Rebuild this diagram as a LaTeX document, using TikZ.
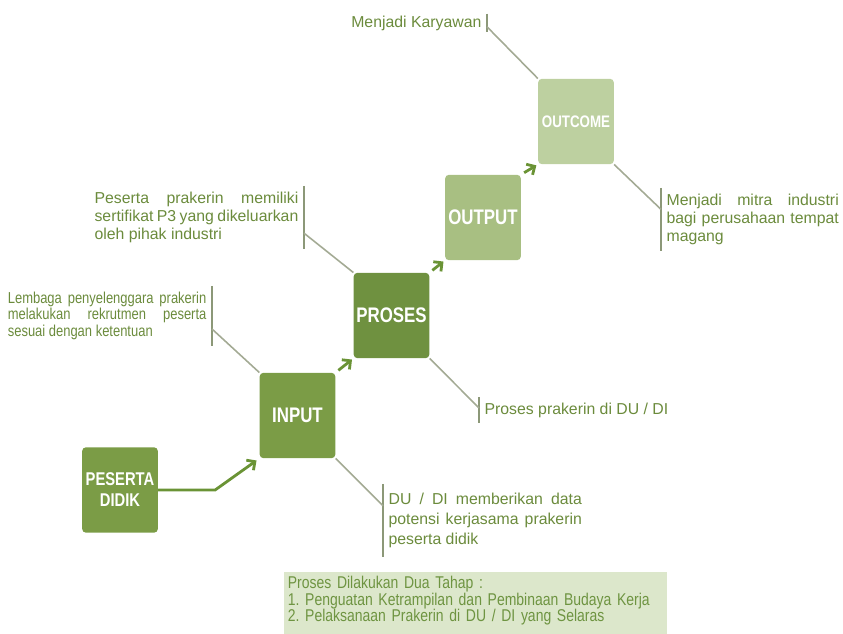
\documentclass[tikz,border=0pt]{standalone}
\usepackage{fontspec}
\setmainfont{Liberation Sans}
\newfontfamily\boxfont[FakeStretch=0.8]{Liberation Sans}
\newfontfamily\narrowfont[FakeStretch=0.82]{Liberation Sans}
\usetikzlibrary{arrows.meta,calc}

\definecolor{boxA}{HTML}{7B9C46}
\definecolor{boxP}{HTML}{6F9140}
\definecolor{boxO}{HTML}{A8BF82}
\definecolor{boxC}{HTML}{BDD0A0}
\definecolor{arrgreen}{HTML}{6A9335}
\definecolor{linkgray}{HTML}{A3AA94}
\definecolor{bargray}{HTML}{8C9878}
\definecolor{lblgreen}{HTML}{6B8B3C}
\definecolor{notefill}{HTML}{DCE7CB}
\definecolor{notegreen}{HTML}{6E9441}

\begin{document}
\begin{tikzpicture}[x=0.02cm, y=-0.02cm,
		stepbox/.style={fill=#1, rounded corners=2pt, minimum width=43pt, minimum height=48.5pt, inner sep=0pt, text=white, align=center, font=\boxfont\bfseries\fontsize{12}{13}\selectfont},
		arr/.style={draw=arrgreen, line width=1.6pt, -{Straight Barb[length=3.5pt,width=7pt]}},
		link/.style={draw=linkgray, line width=0.9pt},
		bar/.style={draw=bargray, line width=0.8pt},
		lbl/.style={text=lblgreen, font=\fontsize{9}{10.5}\selectfont, inner xsep=3pt, inner ysep=1pt},
		lblblock/.style={lbl, align=justify, inner ysep=3pt}]

			\useasboundingbox (0,0) rectangle (843,634);

			%%draw the boxes
			\node[stepbox=boxA, font=\boxfont\bfseries\fontsize{10.5}{12}\selectfont] (peserta) at (120,490){PESERTA\\DIDIK};
			\node[stepbox=boxA] (input) at (297.5,415.5){INPUT};
			\node[stepbox=boxP] (proses) at (391.5,315.5){PROSES};
			\node[stepbox=boxO] (output) at (483,217.5){OUTPUT};
			\node[stepbox=boxC, font=\boxfont\bfseries\fontsize{9.5}{11}\selectfont] (outcome) at (576,121.5){OUTCOME};

			%%draw the arrows
			\draw[arr, shorten >=2pt] (peserta.east) -- ++(57,0) -- (input.south west);
			\draw[arr, shorten <=2pt, shorten >=1pt] (input.north east) -- (proses.south west);
			\draw[arr, shorten <=2pt, shorten >=1pt] (proses.north east) -- (output.south west);
			\draw[arr, shorten <=2pt, shorten >=1pt] (output.north east) -- (outcome.south west);

			%%draw the labels
			\node[lbl, anchor=east] (karyawan) at (487,23){Menjadi Karyawan};
				\draw[bar] (karyawan.north east) -- (karyawan.south east);
				\draw[link] ($(karyawan.north east)!0.7!(karyawan.south east)$) -- (outcome.north west);

			\node[lblblock, anchor=north west, text width=98pt] (mitra) at (661,188){Menjadi mitra industri\linebreak bagi perusahaan tempat\linebreak magang};
				\draw[bar] (mitra.north west) -- (mitra.south west);
				\draw[link] (outcome.south east) -- ($(mitra.north west)!0.34!(mitra.south west)$);

			\node[lblblock, anchor=north east, text width=116pt] (sertifikat) at (304,186){Peserta prakerin memiliki\linebreak sertifikat P3 yang dikeluarkan\linebreak oleh pihak industri};
				\draw[bar] (sertifikat.north east) -- (sertifikat.south east);
				\draw[link] ($(sertifikat.north east)!0.75!(sertifikat.south east)$) -- (proses.north west);

			\node[lblblock, anchor=north east, text width=113pt, font=\narrowfont\fontsize{9}{9.6}\selectfont] (lembaga) at (212,286){Lembaga penyelenggara prakerin\linebreak melakukan rekrutmen peserta\linebreak sesuai dengan ketentuan};
				\draw[bar] (lembaga.north east) -- (lembaga.south east);
				\draw[link] ($(lembaga.north east)!0.72!(lembaga.south east)$) -- (input.north west);

			\node[lbl, anchor=west, inner ysep=3pt] (diproses) at (479,410){Proses prakerin di DU / DI};
				\draw[bar] (diproses.north west) -- (diproses.south west);
				\draw[link] (proses.south east) -- ($(diproses.north west)!0.42!(diproses.south west)$);

			\node[lblblock, anchor=north west, text width=110pt, font=\fontsize{9}{11.3}\selectfont, inner ysep=5pt] (dudi) at (383,484){DU / DI memberikan data\linebreak potensi kerjasama prakerin\linebreak peserta didik};
				\draw[bar] (dudi.north west) -- (dudi.south west);
				\draw[link] (input.south east) -- ($(dudi.north west)!0.3!(dudi.south west)$);

			%%draw the note
			\node[anchor=north west, fill=notefill, text=notegreen, text width=214pt, minimum height=42pt, inner xsep=2pt, inner ysep=2pt, align=left, font=\narrowfont\fontsize{9.7}{9.6}\selectfont\frenchspacing] (tahap) at (284,572){Proses Dilakukan Dua Tahap :\\\mbox{1. Penguatan Ketrampilan dan Pembinaan Budaya Kerja}\\2. Pelaksanaan Prakerin di DU / DI yang Selaras\\\strut};
		\end{tikzpicture}
\end{document}
